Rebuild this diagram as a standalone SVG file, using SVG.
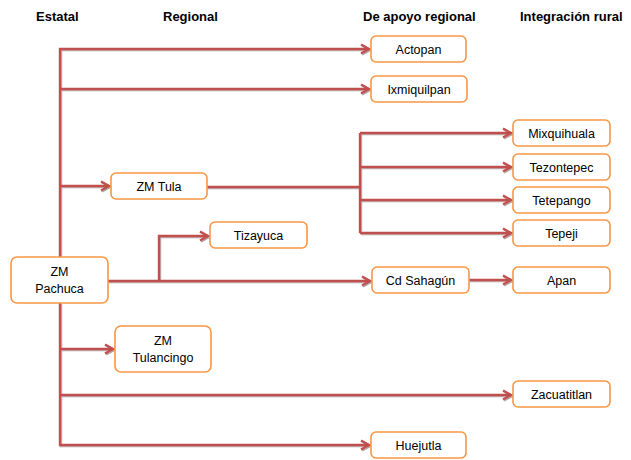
<svg xmlns="http://www.w3.org/2000/svg" width="631" height="460" viewBox="0 0 631 460">
<style>
.hdr{font-family:"Liberation Sans",Arial,sans-serif;font-weight:bold;font-size:13px;fill:#000}
.box{fill:#fff;stroke:#F79646;stroke-width:1.6}
.lbl{font-family:"Liberation Sans",Arial,sans-serif;font-size:12.5px;fill:#000;text-anchor:middle}
.con{fill:none;stroke:#C0504D;stroke-width:2.4}
</style>
<defs>
<marker id="arr" markerUnits="userSpaceOnUse" markerWidth="14" markerHeight="14" refX="10" refY="6" orient="auto">
<path d="M2,1.5 L10,6 L2,10.5" fill="none" stroke="#C0504D" stroke-width="2.4"/>
</marker>
<filter id="sh" x="-5%" y="-5%" width="110%" height="110%">
<feDropShadow dx="1" dy="1" stdDeviation="0.6" flood-color="#000" flood-opacity="0.35"/>
</filter>
</defs>
<g id="headers">
<text class="hdr" x="36" y="21">Estatal</text>
<text class="hdr" x="163" y="21">Regional</text>
<text class="hdr" x="363" y="21">De apoyo regional</text>
<text class="hdr" x="520" y="21">Integración rural</text>
</g>
<g id="connectors" filter="url(#sh)">
<path class="con" d="M60,257 V49 H369" marker-end="url(#arr)"/>
<path class="con" d="M60,89 H369" marker-end="url(#arr)"/>
<path class="con" d="M60,186 H109" marker-end="url(#arr)"/>
<path class="con" d="M60,303 V445 H369" marker-end="url(#arr)"/>
<path class="con" d="M60,349 H113" marker-end="url(#arr)"/>
<path class="con" d="M60,395 H511" marker-end="url(#arr)"/>
<path class="con" d="M108,281 H370" marker-end="url(#arr)"/>
<path class="con" d="M159,281 V236 H208" marker-end="url(#arr)"/>
<path class="con" d="M207,187 H360"/>
<path class="con" d="M360,133 V233"/>
<path class="con" d="M360,133 H511" marker-end="url(#arr)"/>
<path class="con" d="M360,167 H511" marker-end="url(#arr)"/>
<path class="con" d="M360,200 H511" marker-end="url(#arr)"/>
<path class="con" d="M360,233 H511" marker-end="url(#arr)"/>
<path class="con" d="M469,280 H511" marker-end="url(#arr)"/>
</g>
<g id="n-actopan"><rect class="box" x="371" y="36" width="95" height="26" rx="5"/><text class="lbl" x="418.5" y="53.5">Actopan</text></g>
<g id="n-ixmiquilpan"><rect class="box" x="371" y="76" width="96" height="26" rx="5"/><text class="lbl" x="419" y="93.5">Ixmiquilpan</text></g>
<g id="n-mixquihuala"><rect class="box" x="513" y="120" width="97" height="26" rx="5"/><text class="lbl" x="561.5" y="137.5">Mixquihuala</text></g>
<g id="n-tezontepec"><rect class="box" x="513" y="154" width="97" height="26" rx="5"/><text class="lbl" x="561.5" y="171.5">Tezontepec</text></g>
<g id="n-tetepango"><rect class="box" x="513" y="187" width="97" height="26" rx="5"/><text class="lbl" x="561.5" y="204.5">Tetepango</text></g>
<g id="n-tepeji"><rect class="box" x="513" y="220" width="97" height="26" rx="5"/><text class="lbl" x="561.5" y="237.5">Tepeji</text></g>
<g id="n-zmtula"><rect class="box" x="111" y="173" width="96" height="26" rx="5"/><text class="lbl" x="159" y="190.5">ZM Tula</text></g>
<g id="n-tizayuca"><rect class="box" x="210" y="222" width="97" height="26" rx="5"/><text class="lbl" x="258.5" y="239.5">Tizayuca</text></g>
<g id="n-zmpachuca"><rect class="box" x="11" y="257" width="97" height="46" rx="6"/><text class="lbl" x="59.5" y="276">ZM</text><text class="lbl" x="59.5" y="293">Pachuca</text></g>
<g id="n-cdsahagun"><rect class="box" x="372" y="267" width="97" height="26" rx="5"/><text class="lbl" x="420.5" y="284.5">Cd Sahagún</text></g>
<g id="n-apan"><rect class="box" x="513" y="267" width="97" height="26" rx="5"/><text class="lbl" x="561.5" y="284.5">Apan</text></g>
<g id="n-zmtulancingo"><rect class="box" x="115" y="326" width="96" height="46" rx="6"/><text class="lbl" x="163" y="345">ZM</text><text class="lbl" x="163" y="362">Tulancingo</text></g>
<g id="n-zacuatitlan"><rect class="box" x="513" y="381" width="97" height="26" rx="5"/><text class="lbl" x="561.5" y="398.5">Zacuatitlan</text></g>
<g id="n-huejutla"><rect class="box" x="371" y="432" width="95" height="26" rx="5"/><text class="lbl" x="418.5" y="449.5">Huejutla</text></g>
</svg>
